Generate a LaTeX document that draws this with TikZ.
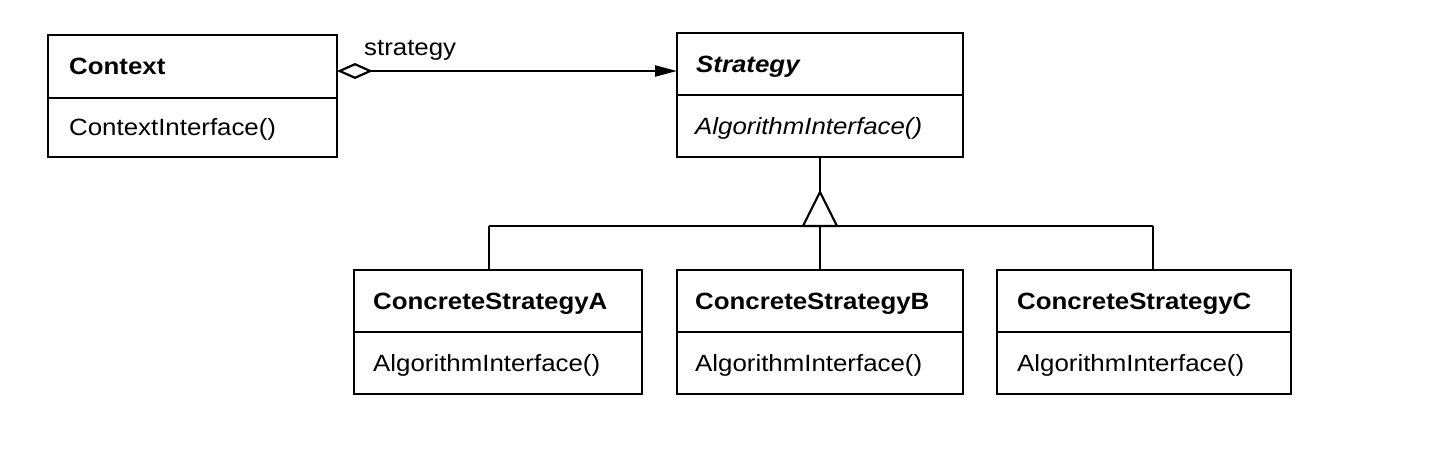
\documentclass[tikz,border=0pt]{standalone}
\usepackage{fontspec}
\setmainfont{Liberation Sans}[FakeStretch=1.1]
\usetikzlibrary{arrows.meta}
\begin{document}
\begin{tikzpicture}[x=1pt,y=-1pt]
\tikzset{
  cls/.style={draw, line width=2.2pt, inner sep=0pt, outer sep=0pt, anchor=north west},
  lbl/.style={anchor=base west, inner sep=0pt, yshift=-8pt, font=\fontsize{23.5}{28}\selectfont},
  link/.style={line width=2.2pt},
}
\useasboundingbox (0,0) rectangle (1442,456);
% Context
\node[cls, minimum width=289pt, minimum height=63pt] (ctxT) at (48,35) {};
\node[cls, minimum width=289pt, minimum height=59pt] (ctxB) at (ctxT.south west) {};
\node[lbl] (ctxN) at ([xshift=21pt]ctxT.west) {\bfseries Context};
\node[lbl] (ctxM) at ([xshift=21pt]ctxB.west) {ContextInterface()};
% Strategy
\node[cls, minimum width=286pt, minimum height=62pt] (stT) at (677,33) {};
\node[cls, minimum width=286pt, minimum height=62pt] (stB) at (stT.south west) {};
\node[lbl] (stN) at ([xshift=19pt]stT.west) {\bfseries\itshape Strategy};
\node[lbl] (stM) at ([xshift=18pt]stB.west) {\itshape AlgorithmInterface()};
% Concrete A
\node[cls, minimum width=288pt, minimum height=62pt] (aT) at (354,270) {};
\node[cls, minimum width=288pt, minimum height=62pt] (aB) at (aT.south west) {};
\node[lbl] (aN) at ([xshift=19pt]aT.west) {\bfseries ConcreteStrategyA};
\node[lbl] (aM) at ([xshift=19pt]aB.west) {AlgorithmInterface()};
% Concrete B
\node[cls, minimum width=286pt, minimum height=62pt] (bT) at (677,270) {};
\node[cls, minimum width=286pt, minimum height=62pt] (bB) at (bT.south west) {};
\node[lbl] (bN) at ([xshift=18pt]bT.west) {\bfseries ConcreteStrategyB};
\node[lbl] (bM) at ([xshift=18pt]bB.west) {AlgorithmInterface()};
% Concrete C
\node[cls, minimum width=294pt, minimum height=62pt] (cT) at (997,270) {};
\node[cls, minimum width=294pt, minimum height=62pt] (cB) at (cT.south west) {};
\node[lbl] (cN) at ([xshift=20pt]cT.west) {\bfseries ConcreteStrategyC};
\node[lbl] (cM) at ([xshift=20pt]cB.west) {AlgorithmInterface()};
% association
\draw[link, {Diamond[open, length=36pt, width=16pt, line width=2.2pt]}-{Triangle[length=22pt, width=11pt]}]
  ([yshift=-4.5pt]ctxT.east) -- ([yshift=-4.5pt]ctxT.east -| stT.west);
\node[lbl] (role) at (364,47) {strategy};
% inheritance
\coordinate (apex) at ([yshift=-35pt]stB.south);
\coordinate (busM) at (820,226);
\coordinate (busL) at (489,226);
\coordinate (busR) at (1153,226);
\draw[link] (stB.south) -- (apex);
\draw[link, line join=miter] (apex) -- ([xshift=-17pt]busM) -- ([xshift=17pt]busM) -- cycle;
\draw[link] (busL) -- (busR);
\draw[link] (busL) -- (busL |- aT.north);
\draw[link] (busM) -- (bT.north);
\draw[link] (busR) -- (busR |- cT.north);
\end{tikzpicture}
\end{document}
